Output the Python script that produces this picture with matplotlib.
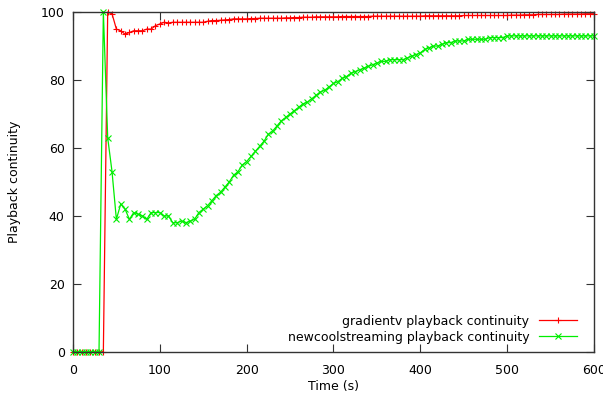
import matplotlib.pyplot as plt

# sample times (s), one sample every 5 s
time_s = list(range(0, 605, 5))

gradientv = [0, 0, 0, 0, 0, 0, 0, 0, 100, 99.5,
             95, 94.5, 93.5, 94, 94.5, 94.5, 94.5, 95, 95, 96,
             96.5, 97, 96.8, 97, 97, 97, 97, 97, 97, 97,
             97, 97.3, 97.5, 97.5, 97.6, 97.7, 97.8, 98, 98, 98,
             98, 98.1, 98.1, 98.2, 98.2, 98.2, 98.2, 98.2, 98.2, 98.3,
             98.3, 98.4, 98.4, 98.5, 98.5, 98.5, 98.6, 98.6, 98.6, 98.6,
             98.6, 98.6, 98.7, 98.7, 98.7, 98.7, 98.7, 98.7, 98.7, 98.8,
             98.8, 98.8, 98.8, 98.8, 98.8, 98.8, 98.8, 98.8, 98.8, 98.8,
             98.8, 98.9, 98.9, 98.9, 98.9, 98.9, 98.9, 98.9, 98.9, 98.9,
             99, 99, 99, 99, 99, 99, 99, 99, 99, 99,
             99, 99.1, 99.1, 99.1, 99.2, 99.2, 99.2, 99.3, 99.3, 99.3,
             99.3, 99.3, 99.3, 99.4, 99.4, 99.4, 99.4, 99.4, 99.5, 99.5,
             99.5]

newcoolstreaming = [0, 0, 0, 0, 0, 0, 0, 100, 63, 53,
                    39, 43.5, 42, 39, 41, 40.5, 40, 39, 41, 41,
                    41, 40, 40, 38, 38, 38.5, 38, 38.5, 39, 41,
                    42, 43, 44.5, 46, 47, 48.5, 50, 52, 53, 55,
                    56, 57.5, 59, 60.5, 62, 64, 65, 66.5, 68, 69,
                    70, 71, 72, 73, 73.5, 74.5, 75.5, 76.5, 77, 78,
                    79, 79.5, 80.5, 81, 82, 82.5, 83, 83.5, 84, 84.5,
                    85, 85.5, 85.5, 86, 86, 86, 86, 86.5, 87, 87.5,
                    88, 89, 89.5, 90, 90, 90.5, 91, 91, 91.5, 91.5,
                    91.5, 92, 92, 92, 92, 92, 92.5, 92.5, 92.5, 92.5,
                    93, 93, 93, 93, 93, 93, 93, 93, 93, 93,
                    93, 93, 93, 93, 93, 93, 93, 93, 93, 93,
                    93]

plt.rcParams['font.family'] = 'DejaVu Sans'
plt.rcParams['font.size'] = 9

fig = plt.figure(figsize=(6.03, 4.03), dpi=100)
ax = fig.add_axes([0.121, 0.127, 0.864, 0.843])

ax.plot(time_s, gradientv, color='#ff0000', linewidth=0.9, marker='+',
        markersize=5, markeredgewidth=0.8, clip_on=False,
        label='gradientv playback continuity')
ax.plot(time_s, newcoolstreaming, color='#00ee00', linewidth=0.9, marker='x',
        markersize=3.8, markeredgewidth=0.8, clip_on=False,
        label='newcoolstreaming playback continuity')

ax.set_xlim(0, 600)
ax.set_ylim(0, 100)
ax.set_xticks(range(0, 601, 100))
ax.set_yticks(range(0, 101, 20))
ax.tick_params(direction='in', length=6, width=0.8, top=True, right=True,
               labelsize=9, color='#333333')
ax.tick_params(axis='x', pad=9)
ax.tick_params(axis='y', pad=6)
for s in ax.spines.values():
    s.set_linewidth(1.0)
    s.set_color('#333333')

ax.set_xlabel('Time (s)', labelpad=2)
ax.set_ylabel('Playback continuity', labelpad=14)

ax.legend(loc='lower right', bbox_to_anchor=(0.983, 0.0), frameon=False,
          markerfirst=False, handlelength=3, handletextpad=0.8, fontsize=9,
          borderaxespad=0.25, borderpad=0.4, labelspacing=0.25)

fig.savefig('out.png', dpi=100)
